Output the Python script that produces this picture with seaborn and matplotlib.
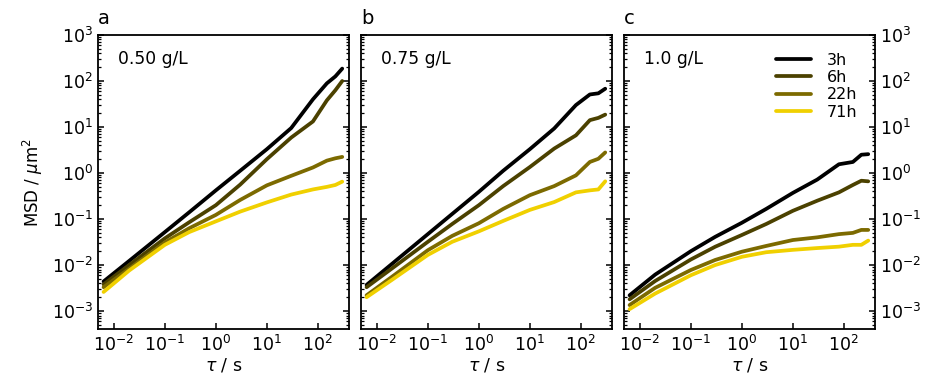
import numpy as np
import pandas as pd
import matplotlib
matplotlib.use("Agg")
import matplotlib.pyplot as plt
import matplotlib.ticker as mticker
import seaborn as sns

# Lag times (s) shared by all measurements
tau = [0.0063, 0.02, 0.1, 0.3, 1, 3, 10, 30, 80, 150, 220, 300]

ages = ["3h", "6h", "22h", "71h"]
concentrations = ["0.50 g/L", "0.75 g/L", "1.0 g/L"]
panel_letters = ["a", "b", "c"]

# MSD (um^2) for 0.50 g/L
msd_050_3h = [0.0044, 0.0123, 0.052, 0.14, 0.42, 1.12, 3.3, 9.5, 40, 89, 126, 186]
msd_050_6h = [0.0038, 0.010, 0.038, 0.085, 0.20, 0.56, 2.0, 5.9, 13.2, 38, 63, 100]
msd_050_22h = [0.0033, 0.0083, 0.031, 0.063, 0.123, 0.26, 0.54, 0.87, 1.32, 1.86, 2.09, 2.24]
msd_050_71h = [0.0026, 0.0076, 0.0275, 0.052, 0.089, 0.145, 0.23, 0.34, 0.44, 0.50, 0.55, 0.65]

# MSD (um^2) for 0.75 g/L
msd_075_3h = [0.0037, 0.0107, 0.047, 0.129, 0.39, 1.12, 3.3, 9.3, 30, 51, 54, 68]
msd_075_6h = [0.0033, 0.0085, 0.032, 0.078, 0.20, 0.52, 1.35, 3.4, 6.6, 14.1, 15.8, 18.6]
msd_075_22h = [0.0022, 0.0056, 0.021, 0.043, 0.081, 0.166, 0.33, 0.52, 0.89, 1.74, 2.04, 2.8]
msd_075_71h = [0.0020, 0.0048, 0.0166, 0.032, 0.054, 0.091, 0.158, 0.234, 0.38, 0.42, 0.44, 0.66]

# MSD (um^2) for 1.0 g/L
msd_100_3h = [0.0022, 0.0062, 0.020, 0.041, 0.083, 0.166, 0.37, 0.72, 1.55, 1.74, 2.5, 2.57]
msd_100_6h = [0.0018, 0.0045, 0.0132, 0.025, 0.045, 0.078, 0.151, 0.25, 0.38, 0.55, 0.68, 0.66]
msd_100_22h = [0.00135, 0.0032, 0.0078, 0.0129, 0.0195, 0.026, 0.035, 0.040, 0.047, 0.050, 0.058, 0.058]
msd_100_71h = [0.0011, 0.0024, 0.0060, 0.010, 0.0151, 0.019, 0.0214, 0.0234, 0.0251, 0.0275, 0.0275, 0.034]

series = {
    "0.50 g/L": [msd_050_3h, msd_050_6h, msd_050_22h, msd_050_71h],
    "0.75 g/L": [msd_075_3h, msd_075_6h, msd_075_22h, msd_075_71h],
    "1.0 g/L": [msd_100_3h, msd_100_6h, msd_100_22h, msd_100_71h],
}

rows = []
for conc in concentrations:
    for age, vals in zip(ages, series[conc]):
        for t, m in zip(tau, vals):
            rows.append({"conc": conc, "age": age, "tau": t, "msd": m})
df = pd.DataFrame(rows)

palette = {"3h": "#000000", "6h": "#4b4100", "22h": "#7c6a00", "71h": "#f0d000"}

sns.set_style("ticks")
plt.rcParams["font.family"] = ["DejaVu Sans"]
plt.rcParams.update({
    "axes.linewidth": 1.3,
    "text.color": "black",
    "axes.labelcolor": "black",
    "axes.edgecolor": "black",
    "xtick.color": "black",
    "ytick.color": "black",
})

fig = plt.figure(figsize=(9.26, 3.8), dpi=100)
lefts = [98 / 926, 361 / 926, 624 / 926]
bottom = 1 - 329 / 380
height = (329 - 35) / 380
width = 251 / 926

y_major = [1e-3, 1e-2, 1e-1, 1e0, 1e1, 1e2, 1e3]
y_minor = [k * 10.0 ** e for e in range(-4, 3) for k in range(2, 10)
           if 10 ** -3.39 < k * 10.0 ** e < 1e3]
x_major = [1e-2, 1e-1, 1e0, 1e1, 1e2]

for i, conc in enumerate(concentrations):
    ax = fig.add_axes([lefts[i], bottom, width, height])
    sub = df[df["conc"] == conc]
    sns.lineplot(data=sub, x="tau", y="msd", hue="age", hue_order=ages,
                 palette=palette, lw=2.7, ax=ax, legend=(i == 2),
                 estimator=None, sort=False)
    ax.set_xscale("log")
    ax.set_yscale("log")
    ax.set_xlim(10 ** -2.31, 10 ** 2.61)
    ax.set_ylim(10 ** -3.39, 1e3)
    ax.set_xticks(x_major)
    ax.set_xticks([], minor=True)
    ax.set_yticks(y_major)
    ax.set_yticks(y_minor, minor=True)
    ax.yaxis.set_minor_formatter(mticker.NullFormatter())
    ax.tick_params(axis="x", which="major", direction="in", length=4.5, width=1.1,
                   bottom=True, top=False, labelsize=12.5, pad=4, color="black")
    ax.tick_params(axis="y", which="major", direction="in", length=4.5, width=1.1,
                   left=True, right=True, labelsize=12.5, color="black")
    ax.tick_params(axis="y", which="minor", direction="in", length=2.5, width=0.9,
                   left=True, right=True, color="black")
    if i == 0:
        ax.set_ylabel("MSD / $\\mu$m$^2$", fontsize=12)
        ax.yaxis.set_label_coords(-0.21, 0.5)
    else:
        ax.set_ylabel("")
    if i == 1:
        ax.tick_params(axis="y", which="both", labelleft=False)
    if i == 2:
        ax.tick_params(axis="y", which="both", labelleft=False, labelright=True)
        leg = ax.legend(loc="upper right", frameon=False, fontsize=11.5,
                        handlelength=2.2, handletextpad=1.0, labelspacing=0.15,
                        borderaxespad=0.7)
        for line in leg.get_lines():
            line.set_linewidth(2.7)
    ax.set_xlabel("$\\tau$ / s", fontsize=12.5, labelpad=1)
    ax.text(0.08, 0.918, conc, transform=ax.transAxes, fontsize=12.3,
            ha="left", va="center")
    ax.text(0.0, 1.025, panel_letters[i], transform=ax.transAxes, fontsize=14,
            ha="left", va="bottom")

fig.savefig("out.png", dpi=100)
